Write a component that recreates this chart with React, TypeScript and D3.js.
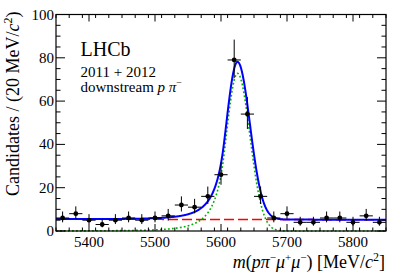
import React from 'react';
import * as d3 from 'd3';

// m(p pi- mu+ mu-) bin centres, 20 MeV bins
const binCenters = [5360, 5380, 5400, 5420, 5440, 5460, 5480, 5500, 5520, 5540, 5560, 5580, 5600,
  5620, 5640, 5660, 5680, 5700, 5720, 5740, 5760, 5780, 5800, 5820, 5840];
const counts = [6, 8, 5, 3, 5, 6, 5, 6, 7, 12, 11, 16, 26, 79, 54, 16, 6, 8, 4, 4, 6, 6, 4, 7, 4];
const binHalfWidth = 10;

// fit model
const sigPeak = 72.8;
const sigMean = 5625;
const sigSigmaL = 17;
const sigSigmaR = 18.8;
const sigAlphaL = 1.2;
const sigNL = 4;
const bkgEnds = [5.45, 5.2]; // background level at 5350 and 5850

const xDomain = [5350, 5850];
const yDomain = [0, 100];
const xMajor = [5400, 5500, 5600, 5700, 5800];
const yMajor = [0, 20, 40, 60, 80, 100];

const W = 407;
const H = 276;
const M = { left: 56, right: 386, top: 14.5, bottom: 231 };
const FONT = '"Liberation Serif", "Times New Roman", serif';

const signal = (m: number) => {
  const t = (m - sigMean) / (m < sigMean ? sigSigmaL : sigSigmaR);
  if (t >= -sigAlphaL) return sigPeak * Math.exp(-0.5 * t * t);
  const A = Math.pow(sigNL / sigAlphaL, sigNL) * Math.exp(-0.5 * sigAlphaL * sigAlphaL);
  const B = sigNL / sigAlphaL - sigAlphaL;
  return sigPeak * A * Math.pow(B - t, -sigNL);
};
const background = (m: number) =>
  bkgEnds[0] + (bkgEnds[1] - bkgEnds[0]) * (m - xDomain[0]) / (xDomain[1] - xDomain[0]);

export default function App() {
  const x = d3.scaleLinear().domain(xDomain).range([M.left, M.right]);
  const y = d3.scaleLinear().domain(yDomain).range([M.bottom, M.top]);

  const grid = d3.range(xDomain[0], xDomain[1] + 0.5, 0.5);
  const line = (f: (m: number) => number) =>
    d3.line<number>().x(m => x(m)).y(m => y(f(m)))(grid) || '';

  const xMinor = d3.range(xDomain[0], xDomain[1] + 1, 20).filter(v => !xMajor.includes(v));
  const yMinor = d3.range(0, 101, 5).filter(v => !yMajor.includes(v));

  const points = binCenters.map((c, i) => {
    const n = counts[i];
    const s = Math.sqrt(n + 0.25);
    return { c, n, lo: n - (s - 0.5), hi: n + (s + 0.5) };
  });

  return (
    <div style={{ position: 'fixed', left: 0, top: 0 }}>
      <svg width={W} height={H} style={{ display: 'block', background: '#fff' }} fontFamily={FONT}>
        {/* fit components */}
        <path d={line(background)} fill="none" stroke="#ff0000" strokeWidth={1.5} strokeDasharray="10 4" />
        <path d={line(signal)} fill="none" stroke="#00b000" strokeWidth={1.6} strokeDasharray="1.8 2.2" />
        <path d={line(m => signal(m) + background(m))} fill="none" stroke="#0000ff" strokeWidth={2} />

        {/* data */}
        <g stroke="#000" strokeWidth={1}>
          {points.map(p => (
            <g key={p.c}>
              <line x1={x(p.c - binHalfWidth)} x2={x(p.c + binHalfWidth)} y1={y(p.n)} y2={y(p.n)} />
              <line x1={x(p.c)} x2={x(p.c)} y1={y(Math.max(p.lo, 0))} y2={y(p.hi)} />
              <circle cx={x(p.c)} cy={y(p.n)} r={2.4} fill="#000" stroke="none" />
            </g>
          ))}
        </g>

        {/* frame and ticks */}
        <rect x={M.left} y={M.top} width={M.right - M.left} height={M.bottom - M.top}
          fill="none" stroke="#000" strokeWidth={1.2} />
        <g stroke="#000" strokeWidth={1}>
          {xMajor.map(v => (
            <g key={'xM' + v}>
              <line x1={x(v)} x2={x(v)} y1={M.bottom} y2={M.bottom - 7} />
              <line x1={x(v)} x2={x(v)} y1={M.top} y2={M.top + 7} />
            </g>
          ))}
          {xMinor.map(v => (
            <g key={'xm' + v}>
              <line x1={x(v)} x2={x(v)} y1={M.bottom} y2={M.bottom - 3.5} />
              <line x1={x(v)} x2={x(v)} y1={M.top} y2={M.top + 3.5} />
            </g>
          ))}
          {yMajor.map(v => (
            <g key={'yM' + v}>
              <line x1={M.left} x2={M.left + 9} y1={y(v)} y2={y(v)} />
              <line x1={M.right} x2={M.right - 9} y1={y(v)} y2={y(v)} />
            </g>
          ))}
          {yMinor.map(v => (
            <g key={'ym' + v}>
              <line x1={M.left} x2={M.left + 4.5} y1={y(v)} y2={y(v)} />
              <line x1={M.right} x2={M.right - 4.5} y1={y(v)} y2={y(v)} />
            </g>
          ))}
        </g>

        {/* tick labels */}
        <g fontSize={15} fill="#000">
          {xMajor.map(v => (
            <text key={'xl' + v} x={x(v)} y={246.5} textAnchor="middle">{v}</text>
          ))}
          {yMajor.map(v => (
            <text key={'yl' + v} x={M.left - 2} y={y(v) + 5} textAnchor="end">{v}</text>
          ))}
        </g>

        {/* axis titles */}
        <text x={385} y={268} textAnchor="end" fontSize={18}>
          <tspan fontStyle="italic">m</tspan>(<tspan fontStyle="italic">p</tspan>
          <tspan fontStyle="italic">π</tspan><tspan fontSize={11} dy={-7}>−</tspan>
          <tspan fontStyle="italic" dy={7}>μ</tspan><tspan fontSize={11} dy={-7}>+</tspan>
          <tspan fontStyle="italic" dy={7}>μ</tspan><tspan fontSize={11} dy={-7}>−</tspan>
          <tspan dy={7}>) [MeV/</tspan><tspan fontStyle="italic">c</tspan>
          <tspan fontSize={12} dy={-7}>2</tspan><tspan dy={7}>]</tspan>
        </text>
        <text transform={`translate(19,${M.top - 3}) rotate(-90)`} textAnchor="end" fontSize={18}>
          Candidates / (20 MeV/<tspan fontStyle="italic">c</tspan>
          <tspan fontSize={12} dy={-7}>2</tspan><tspan dy={7}>)</tspan>
        </text>

        {/* labels */}
        <text x={80.5} y={55.7} fontSize={20}>LHCb</text>
        <text x={80.5} y={77.3} fontSize={15}>2011 + 2012</text>
        <text x={80.5} y={92.3} fontSize={15}>
          downstream <tspan fontStyle="italic">p</tspan> <tspan fontStyle="italic">π</tspan>
          <tspan fontSize={10} dy={-6}>−</tspan>
        </text>
      </svg>
    </div>
  );
}
